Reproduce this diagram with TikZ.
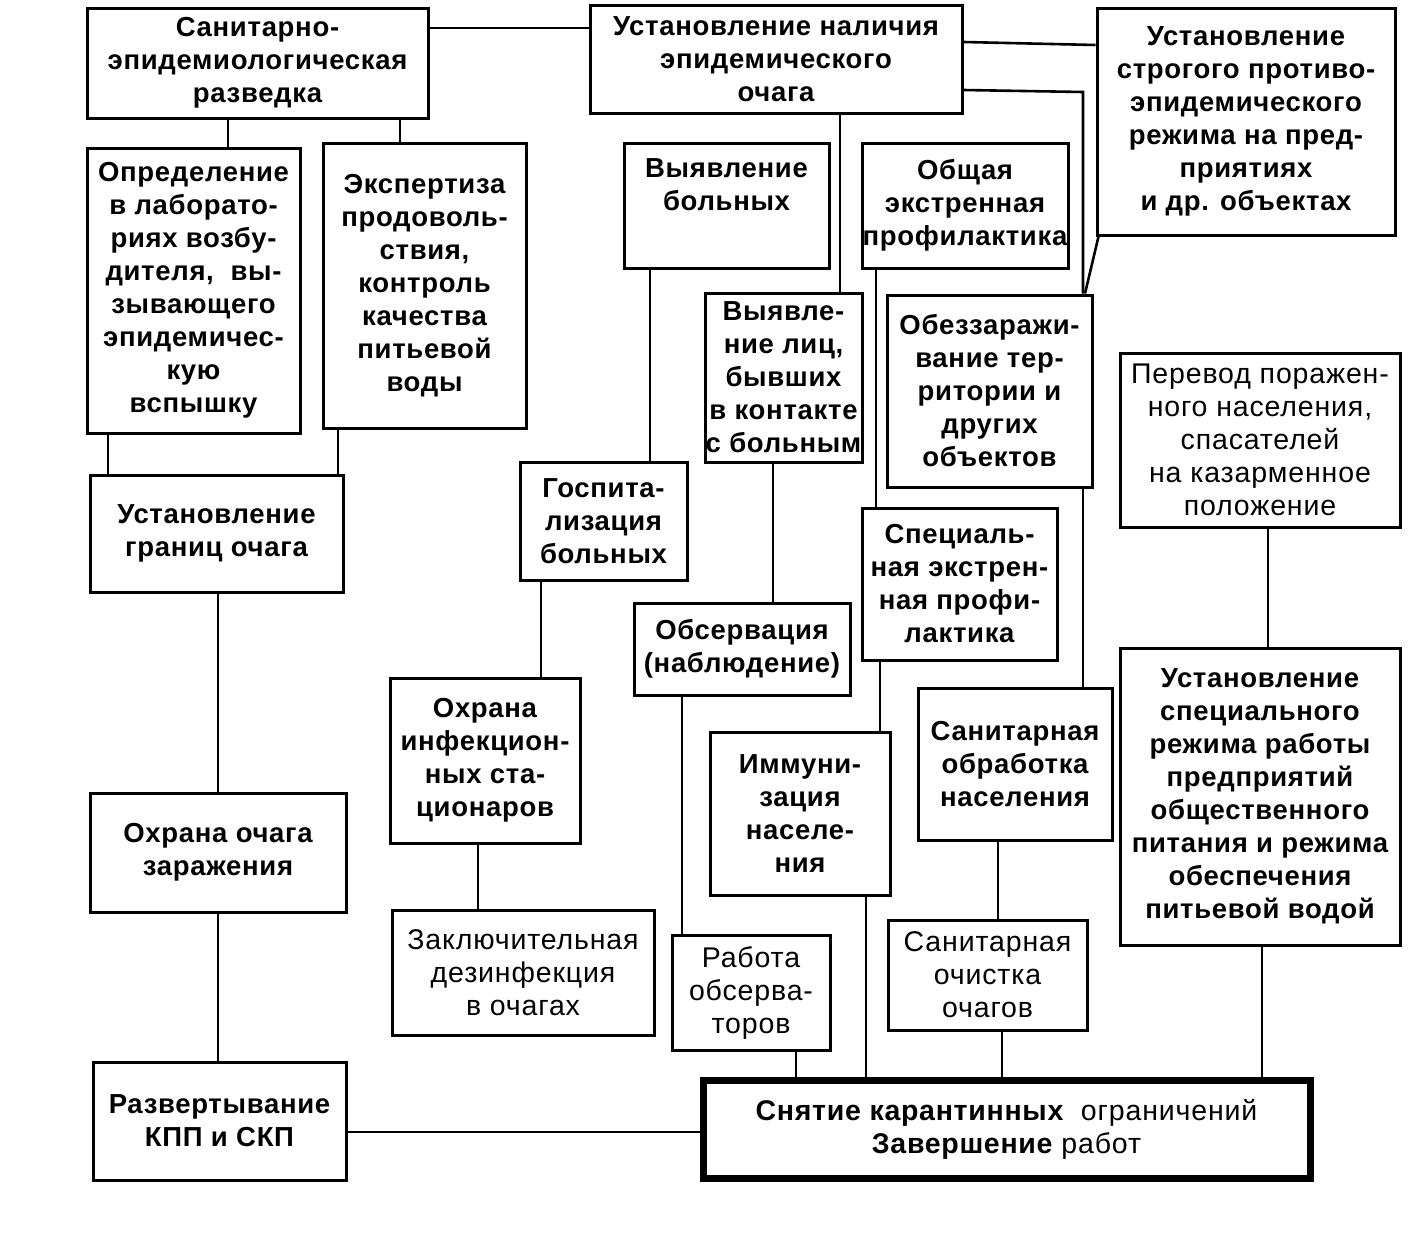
\documentclass[tikz,border=0pt]{standalone}
\usepackage{fontspec}
\setmainfont{Liberation Sans}[LetterSpace=2.5]
\newfontfamily\regfont{Liberation Sans}[LetterSpace=3]
\begin{document}
\begin{tikzpicture}[x=1pt,y=1pt]
\tikzset{
  box/.style={draw, line width=3pt, inner sep=0pt, align=center, font=\fontsize{27.5}{33}\selectfont\bfseries},
  reg/.style={font=\fontsize{28.5}{33}\selectfont\regfont},
  con/.style={line width=2.6pt},
}
\useasboundingbox (0,0) rectangle (1410,-1234);

\node[box, minimum width=341pt, minimum height=110pt] (san) at (257.5,-63) {Санитарно-\\эпидемиологическая\\разведка};
\node[box, minimum width=372pt, minimum height=108pt] (ust) at (776,-59) {Установление наличия\\эпидемического\\очага};
\node[box, minimum width=298pt, minimum height=227pt] (strog) at (1246,-121.5) {Установление\\строгого противо-\\эпидемического\\режима на пред-\\приятиях\\и др. объектах};
\node[box, minimum width=213pt, minimum height=285pt] (opr) at (193.5,-290.5) {Определение\\в лаборато-\\риях возбу-\\дителя,\ \ вы-\\зывающего\\эпидемичес-\\кую\\вспышку};
\node[box, minimum width=203pt, minimum height=285pt] (eksp) at (424.5,-285.5) {Экспертиза\\продоволь-\\ствия,\\контроль\\качества\\питьевой\\воды};
\node[box, minimum width=205pt, minimum height=125pt] (vyb) at (726.5,-205.5) {Выявление\\больных\\[8pt]\mbox{}};
\node[box, minimum width=206pt, minimum height=125pt] (obsch) at (965,-205.5) {Общая\\экстренная\\\makebox[196pt]{профилактика}};
\node[box, minimum width=157pt, minimum height=169pt] (vyl) at (783.5,-377.5) {Выявле-\\ние лиц,\\бывших\\\makebox[150pt]{в контакте}\\\makebox[150pt]{с больным}};
\node[box, minimum width=205pt, minimum height=192pt] (obez) at (989.5,-391) {\makebox[195pt]{Обеззаражи-}\\вание тер-\\ритории и\\других\\объектов};
\node[box, reg, minimum width=280pt, minimum height=174pt] (perevod) at (1260,-440) {\makebox[270pt]{Перевод поражен-}\\ного населения,\\спасателей\\на казарменное\\положение};
\node[box, minimum width=253pt, minimum height=117pt] (gran) at (216.5,-533.5) {Установление\\границ очага};
\node[box, minimum width=167pt, minimum height=118pt] (gosp) at (603.5,-521) {Госпита-\\лизация\\больных};
\node[box, minimum width=195pt, minimum height=152pt] (spec) at (959.5,-584) {Специаль-\\\makebox[185pt]{ная экстрен-}\\ная профи-\\лактика};
\node[box, minimum width=216pt, minimum height=92pt] (obs) at (742,-649) {Обсервация\\\makebox[206pt]{(наблюдение)}};
\node[box, minimum width=280pt, minimum height=297pt] (rezh) at (1260,-796.5) {Установление\\специального\\режима работы\\предприятий\\общественного\\\makebox[270pt]{питания и режима}\\обеспечения\\питьевой водой};
\node[box, minimum width=190pt, minimum height=165pt] (ohr) at (485,-760.5) {Охрана\\инфекцион-\\ных ста-\\ционаров};
\node[box, minimum width=194pt, minimum height=152pt] (sobr) at (1015,-764) {\makebox[184pt]{Санитарная}\\обработка\\населения};
\node[box, minimum width=180pt, minimum height=163pt] (imm) at (800,-813.5) {Иммуни-\\зация\\населе-\\ния};
\node[box, minimum width=256pt, minimum height=119pt] (ohroch) at (218,-852.5) {Охрана очага\\заражения};
\node[box, reg, minimum width=262pt, minimum height=125pt] (zakl) at (523,-972.5) {\makebox[252pt]{Заключительная}\\дезинфекция\\в очагах};
\node[box, reg, minimum width=158pt, minimum height=115pt] (rab) at (751,-992.5) {Работа\\обсерва-\\торов};
\node[box, reg, minimum width=199pt, minimum height=110pt] (sochist) at (987.5,-975) {\makebox[189pt]{Санитарная}\\очистка\\очагов};
\node[box, minimum width=253pt, minimum height=118pt] (razv) at (219.5,-1121) {Развертывание\\КПП и СКП};
\node[box, reg, line width=7pt, minimum width=607pt, minimum height=98pt] (snyat) at (1006.5,-1129) {{\rmfamily\bfseries Снятие карантинных}\ \ ограничений\\{\rmfamily\bfseries Завершение} работ};

% connectors
\draw[con] (san.east |- 0,-28) -- (ust.west |- 0,-28);
\draw[con] (ust.east |- 0,-42) -- (strog.west |- 0,-45);
\draw[con] (ust.east |- 0,-90) -- (1083,-92) -- (obez.north -| 1083,0);
\draw[con] ([xshift=3pt]strog.south west) -- (obez.north -| 1085,0);
\draw[con] (san.south -| 228,0) -- (opr.north -| 228,0);
\draw[con] (san.south -| 400,0) -- (eksp.north -| 400,0);
\draw[con] (opr.south -| 108,0) -- (gran.north -| 108,0);
\draw[con] (eksp.south -| 338,0) -- (gran.north -| 338,0);
\draw[con] (gran.south -| 218,0) -- (ohroch.north -| 218,0);
\draw[con] (ohroch.south -| 218,0) -- (razv.north -| 218,0);
\draw[con] (razv.east |- 0,-1132) -- (snyat.west |- 0,-1132);
\draw[con] (ust.south -| 840,0) -- (vyl.north -| 840,0);
\draw[con] (vyb.south -| 650,0) -- (gosp.north -| 650,0);
\draw[con] (gosp.south -| 541,0) -- (ohr.north -| 541,0);
\draw[con] (ohr.south -| 478,0) -- (zakl.north -| 478,0);
\draw[con] (vyl.south -| 773,0) -- (obs.north -| 773,0);
\draw[con] (obs.south -| 682,0) -- (rab.north -| 682,0);
\draw[con] (rab.south -| 796,0) -- (snyat.north -| 796,0);
\draw[con] (obsch.south -| 876,0) -- (spec.north -| 876,0);
\draw[con] (spec.south -| 880,0) -- (imm.north -| 880,0);
\draw[con] (imm.south -| 866,0) -- (snyat.north -| 866,0);
\draw[con] (obez.south -| 1083,0) -- (sobr.north -| 1083,0);
\draw[con] (sobr.south -| 998,0) -- (sochist.north -| 998,0);
\draw[con] (sochist.south -| 1002,0) -- (snyat.north -| 1002,0);
\draw[con] (perevod.south -| 1268,0) -- (rezh.north -| 1268,0);
\draw[con] (rezh.south -| 1262,0) -- (snyat.north -| 1262,0);
\end{tikzpicture}
\end{document}
